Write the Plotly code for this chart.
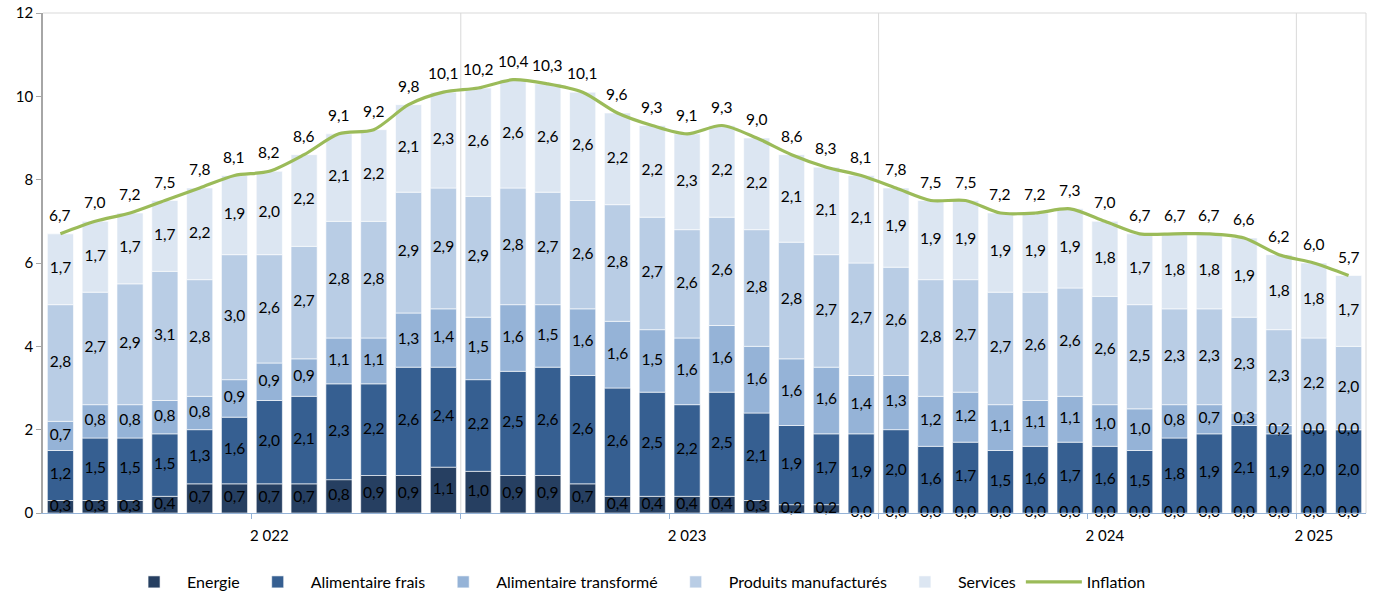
import plotly.graph_objects as go

months = [f"{y}-{m:02d}" for y in (2022, 2023, 2024) for m in range(1, 13)] + ["2025-01", "2025-02"]

energie = [0.3, 0.3, 0.3, 0.4, 0.7, 0.7, 0.7, 0.7, 0.8, 0.9, 0.9, 1.1,
           1.0, 0.9, 0.9, 0.7, 0.4, 0.4, 0.4, 0.4, 0.3, 0.2, 0.2, 0.0,
           0.0, 0.0, 0.0, 0.0, 0.0, 0.0, 0.0, 0.0, 0.0, 0.0, 0.0, 0.0,
           0.0, 0.0]
alim_frais = [1.2, 1.5, 1.5, 1.5, 1.3, 1.6, 2.0, 2.1, 2.3, 2.2, 2.6, 2.4,
              2.2, 2.5, 2.6, 2.6, 2.6, 2.5, 2.2, 2.5, 2.1, 1.9, 1.7, 1.9,
              2.0, 1.6, 1.7, 1.5, 1.6, 1.7, 1.6, 1.5, 1.8, 1.9, 2.1, 1.9,
              2.0, 2.0]
alim_transf = [0.7, 0.8, 0.8, 0.8, 0.8, 0.9, 0.9, 0.9, 1.1, 1.1, 1.3, 1.4,
               1.5, 1.6, 1.5, 1.6, 1.6, 1.5, 1.6, 1.6, 1.6, 1.6, 1.6, 1.4,
               1.3, 1.2, 1.2, 1.1, 1.1, 1.1, 1.0, 1.0, 0.8, 0.7, 0.3, 0.2,
               0.0, 0.0]
prod_manuf = [2.8, 2.7, 2.9, 3.1, 2.8, 3.0, 2.6, 2.7, 2.8, 2.8, 2.9, 2.9,
              2.9, 2.8, 2.7, 2.6, 2.8, 2.7, 2.6, 2.6, 2.8, 2.8, 2.7, 2.7,
              2.6, 2.8, 2.7, 2.7, 2.6, 2.6, 2.6, 2.5, 2.3, 2.3, 2.3, 2.3,
              2.2, 2.0]
services = [1.7, 1.7, 1.7, 1.7, 2.2, 1.9, 2.0, 2.2, 2.1, 2.2, 2.1, 2.3,
            2.6, 2.6, 2.6, 2.6, 2.2, 2.2, 2.3, 2.2, 2.2, 2.1, 2.1, 2.1,
            1.9, 1.9, 1.9, 1.9, 1.9, 1.9, 1.8, 1.7, 1.8, 1.8, 1.9, 1.8,
            1.8, 1.7]
inflation = [6.7, 7.0, 7.2, 7.5, 7.8, 8.1, 8.2, 8.6, 9.1, 9.2, 9.8, 10.1,
             10.2, 10.4, 10.3, 10.1, 9.6, 9.3, 9.1, 9.3, 9.0, 8.6, 8.3, 8.1,
             7.8, 7.5, 7.5, 7.2, 7.2, 7.3, 7.0, 6.7, 6.7, 6.7, 6.6, 6.2,
             6.0, 5.7]

year_labels = ["2 022", "2 023", "2 024", "2 025"]
year_label_pos = [6, 18, 30, 36]
year_bounds = [11.5, 23.5, 35.5]
minor_ticks = [5.5, 11.5, 17.5, 23.5, 29.5, 35.5]
y_ticks = [0, 2, 4, 6, 8, 10, 12]

series = [
    ("Energie", energie, "#263F61"),
    ("Alimentaire frais", alim_frais, "#365F91"),
    ("Alimentaire transformé", alim_transf, "#95B3D7"),
    ("Produits manufacturés", prod_manuf, "#B9CDE5"),
    ("Services", services, "#DCE6F2"),
]

FONT = "Lato"
LABEL_SIZE = 15.5
x = list(range(len(months)))


def fmt(v):
    return f"{v:.1f}".replace(".", ",")


fig = go.Figure()

base = [0.0] * len(x)
label_traces = []
for name, vals, color in series:
    fig.add_trace(go.Bar(
        x=x, y=vals, base=base[:], name=name,
        marker=dict(color=color, line=dict(color="white", width=0.6)),
        hoverinfo="skip",
    ))
    mids = [b + v / 2 for b, v in zip(base, vals)]
    label_traces.append(go.Scatter(
        x=x, y=mids, mode="text", text=[fmt(v) for v in vals],
        textposition="middle center", cliponaxis=False,
        textfont=dict(family=FONT, size=LABEL_SIZE, color="#000000"),
        showlegend=False, hoverinfo="skip",
    ))
    base = [b + v for b, v in zip(base, vals)]

for t in label_traces:
    fig.add_trace(t)

fig.add_trace(go.Scatter(
    x=x, y=inflation, mode="lines", name="Inflation",
    line=dict(color="#9BBB59", width=3.2, shape="spline", smoothing=0.8),
    hoverinfo="skip",
))

annotations = []
for xi, v in zip(x, inflation):
    annotations.append(dict(
        x=xi, y=v, xref="x", yref="y", text=fmt(v), showarrow=False,
        yanchor="middle", yshift=19,
        font=dict(family=FONT, size=LABEL_SIZE, color="#000000"),
    ))

shapes = []
for xb in year_bounds:
    shapes.append(dict(type="line", xref="x", yref="y", x0=xb, x1=xb, y0=0, y1=12,
                       line=dict(color="#D9D9D9", width=1), layer="below"))
shapes.append(dict(type="line", xref="paper", yref="paper", x0=0, x1=1, y0=1, y1=1,
                   line=dict(color="#D9D9D9", width=1)))
shapes.append(dict(type="line", xref="paper", yref="paper", x0=1, x1=1, y0=0, y1=1,
                   line=dict(color="#D9D9D9", width=1)))

fig.update_layout(
    width=1374, height=594,
    margin=dict(l=43, r=8, t=13, b=81, autoexpand=False),
    barmode="overlay",
    bargap=0.25,
    plot_bgcolor="white", paper_bgcolor="white",
    font=dict(family=FONT, size=15, color="#000000"),
    showlegend=True,
    legend=dict(orientation="h", x=0.059, xanchor="left", y=-0.138, yanchor="middle",
                font=dict(family=FONT, size=16, color="#000000"),
                itemwidth=56, traceorder="normal", tracegroupgap=0),
    annotations=annotations,
    shapes=shapes,
    xaxis=dict(
        range=[-0.5, len(x) - 0.5], showgrid=False, zeroline=False, automargin=False,
        showline=True, linecolor="#95B3D7", linewidth=1,
        tickmode="array", tickvals=year_label_pos, ticktext=year_labels,
        ticks="", ticklabelstandoff=9,
        tickfont=dict(family=FONT, size=15, color="#000000"),
        minor=dict(tickmode="array", tickvals=minor_ticks, ticks="outside",
                   ticklen=5, tickcolor="#95B3D7", showgrid=False),
    ),
    yaxis=dict(
        range=[0, 12], tickmode="array", tickvals=y_ticks, automargin=False,
        showgrid=False, zeroline=False,
        showline=True, linecolor="#A6A6A6", linewidth=1.5,
        ticks="outside", ticklen=5, tickcolor="#A6A6A6",
        tickfont=dict(family=FONT, size=15, color="#000000"),
    ),
)

fig.write_html("out.html", config={"displayModeBar": False},
               post_script="document.body.style.margin='0';")
